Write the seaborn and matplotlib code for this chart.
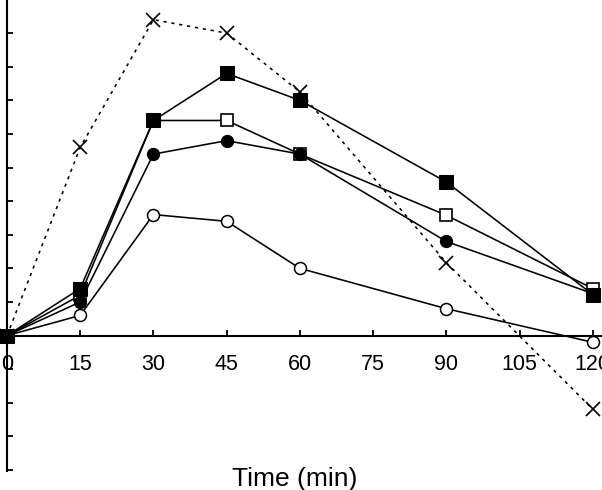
import numpy as np
import pandas as pd
import seaborn as sns
import matplotlib
matplotlib.use("Agg")
import matplotlib.pyplot as plt

# values (one y tick = 1 unit)
time_min = [0, 15, 30, 45, 60, 90, 120]
open_circle = [0, 0.6, 3.6, 3.4, 2.0, 0.8, -0.2]
open_square = [0, 1.2, 6.4, 6.4, 5.4, 3.58, 1.4]
filled_circle = [0, 1.0, 5.4, 5.8, 5.4, 2.8, 1.25]
filled_square = [0, 1.4, 6.4, 7.8, 7.0, 4.57, 1.22]
cross = [0, 5.6, 9.4, 9.0, 7.25, 2.17, -2.19]
xticks = [0, 15, 30, 45, 60, 75, 90, 105, 120]
yticks = list(range(-4, 10))

sns.set_style("ticks")
plt.rcParams['font.family'] = ['Liberation Sans', 'DejaVu Sans']
plt.rcParams['text.color'] = 'black'
plt.rcParams['xtick.color'] = 'black'
plt.rcParams['ytick.color'] = 'black'
plt.rcParams['axes.edgecolor'] = 'black'

fig = plt.figure(figsize=(6.02, 4.90), dpi=100)
ax = fig.add_axes([7/602, 19/490, 595/602, 471/490])

lw = 1.15
# order matters: later ones sit on top
sns.lineplot(x=time_min, y=open_circle, ax=ax, color='black', lw=lw,
             marker='o', ms=8.6, mfc='white', mec='black', mew=1.1, clip_on=False)
sns.lineplot(x=time_min, y=open_square, ax=ax, color='black', lw=lw,
             marker='s', ms=9, mfc='white', mec='black', mew=1.2, clip_on=False)
sns.lineplot(x=time_min, y=filled_circle, ax=ax, color='black', lw=lw,
             marker='o', ms=8.8, mfc='black', mec='black', clip_on=False)
sns.lineplot(x=time_min, y=filled_square, ax=ax, color='black', lw=lw,
             marker='s', ms=9.6, mfc='black', mec='black', clip_on=False)
sns.lineplot(x=time_min, y=cross, ax=ax, color='black', lw=lw, linestyle=(0, (2, 3)),
             marker='x', ms=10, mec='black', mew=1.2, clip_on=False)

sns.despine(ax=ax)
ax.spines['bottom'].set_position(('data', 0))
ax.spines['bottom'].set_linewidth(1.5)
ax.spines['left'].set_linewidth(1.5)

ax.set_xlim(0, 121.9)
ax.set_ylim(-4.03, 9.985)
ax.set_xticks(xticks)
ax.set_xticklabels([str(t) for t in xticks])
ax.set_yticks(yticks)
ax.set_yticklabels([])
ax.tick_params(axis='both', direction='in', length=4, width=1.3, color='black',
               labelcolor='black')
ax.tick_params(axis='x', pad=13, labelsize=15.5)

ax.set_xlabel("Time (min)", fontsize=19, color='black')
ax.xaxis.set_label_coords(0.484, 0.009)
ax.set_ylabel("")

fig.savefig("out.png", dpi=100)
